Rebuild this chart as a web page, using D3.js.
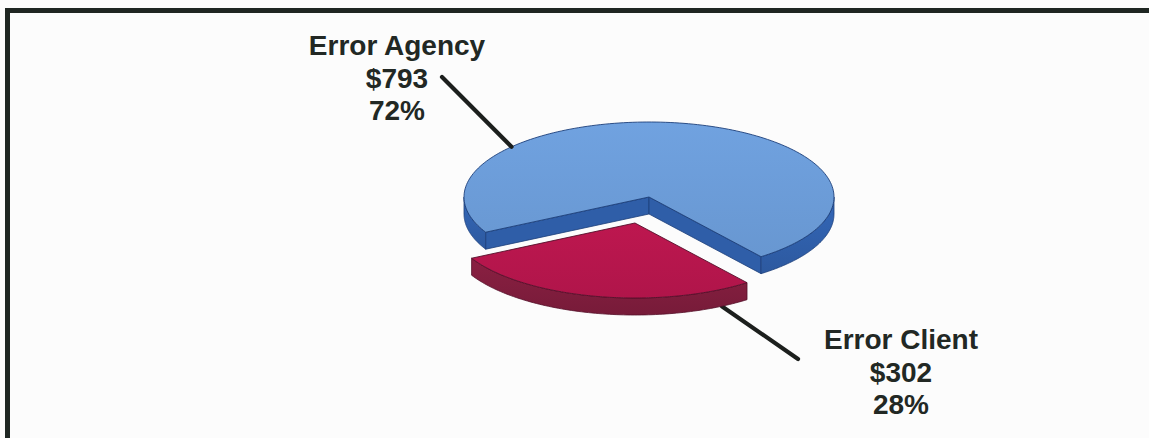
<!DOCTYPE html>
<html>
<head>
<meta charset="utf-8">
<script src="https://cdn.jsdelivr.net/npm/d3@7"></script>
<style>
  html, body { margin: 0; padding: 0; background: #fcfcfc; }
  svg { display: block; }
  text { font-family: "Liberation Sans", Arial, Helvetica, sans-serif; font-weight: bold; }
</style>
</head>
<body>
<svg id="chart" width="1149" height="438"></svg>
<script>
// ---- data ----
const categories = ["Error Agency", "Error Client"];
const values = [793, 302];
const topColors = ["#6b9bd7", "#b5164c"];
const sideColors = ["#2f5ea8", "#7e1d3c"];
const edgeColors = ["#1d3f7a", "#55102a"];
const explodeFactor = [0, 0.355];

// ---- layout ----
const W = 1149, H = 438;
const center = { x: 649, y: 197 };
const rx = 185, ry = 75, depth = 17;
const startDeg = 242; // d3 angle convention (0 = 12 o'clock)
const labelPos = [ { x: 397, y: 55 }, { x: 901, y: 349 } ];
const lineHeight = 32.5;
// leader lines: from label anchor to a point on slice edge (angle in screen param degrees)
const leaders = [
  { from: { x: 442, y: 77 }, angle: 222, bottom: false },
  { from: { x: 798, y: 359 }, angle: 62, bottom: true }
];

const svg = d3.select("#chart");
const total = d3.sum(values);
const fmtMoney = d3.format("$,.0f");
const fmtPct = d3.format(".0%");

// frame
svg.append("path")
  .attr("d", `M7.5,${H + 5} L7.5,10.5 L${W + 5},10.5`)
  .attr("fill", "none").attr("stroke", "#1f2622").attr("stroke-width", 5);

const pie = d3.pie().sort(null)
  .startAngle(startDeg * Math.PI / 180)
  .endAngle(startDeg * Math.PI / 180 + 2 * Math.PI);
const arcs = pie(values);

// convert d3 angle -> screen param angle (0 = +x, clockwise with y down)
const toScreen = a => a - Math.PI / 2;

const slices = arcs.map((d, i) => {
  const a0 = toScreen(d.startAngle), a1 = toScreen(d.endAngle);
  const mid = (a0 + a1) / 2;
  const e = explodeFactor[i];
  return {
    i, a0, a1,
    c: { x: center.x + e * rx * Math.cos(mid), y: center.y + e * ry * Math.sin(mid) }
  };
});

const pt = (c, t, dz = 0) => [c.x + rx * Math.cos(t), c.y + ry * Math.sin(t) + dz];
const line = d3.line();
function arcPts(c, s, e, dz = 0, n = 90) {
  const out = [];
  for (let k = 0; k <= n; k++) out.push(pt(c, s + (e - s) * k / n, dz));
  return out;
}

const defs = svg.append("defs");
slices.forEach(s => {
  const g = defs.append("linearGradient").attr("id", "top" + s.i)
    .attr("x1", "0").attr("y1", "0").attr("x2", "0").attr("y2", "1");
  const base = d3.color(topColors[s.i]);
  g.append("stop").attr("offset", "0").attr("stop-color", base.brighter(0.12));
  g.append("stop").attr("offset", "1").attr("stop-color", base.darker(0.08));
  const gs = defs.append("linearGradient").attr("id", "side" + s.i)
    .attr("x1", "0").attr("y1", "0").attr("x2", "0").attr("y2", "1");
  const sb = d3.color(sideColors[s.i]);
  gs.append("stop").attr("offset", "0").attr("stop-color", sb.brighter(0.25));
  gs.append("stop").attr("offset", "1").attr("stop-color", sb.darker(0.15));
});

// leader for client drawn behind pie
function drawLeader(L, idx) {
  const s = slices[idx];
  const t = L.angle * Math.PI / 180;
  const p = pt(s.c, t, L.bottom ? depth : 0);
  svg.append("line")
    .attr("x1", L.from.x).attr("y1", L.from.y)
    .attr("x2", p[0]).attr("y2", p[1])
    .attr("stroke", "#1c1f1d").attr("stroke-width", 4.2).attr("stroke-linecap", "round");
}
drawLeader(leaders[1], 1);

const pieG = svg.append("g");
slices.forEach(s => {
  const g = pieG.append("g");
  const { c, a0, a1 } = s;
  const stroke = edgeColors[s.i];
  // radial faces
  [[a0, "start"], [a1, "end"]].forEach(([t, kind]) => {
    const visible = kind === "start" ? Math.cos(t) < 0 : Math.cos(t) > 0;
    if (!visible) return;
    const pts = [[c.x, c.y], pt(c, t), pt(c, t, depth), [c.x, c.y + depth]];
    g.append("path").attr("d", line(pts) + "Z")
      .attr("fill", sideColors[s.i]).attr("stroke", stroke).attr("stroke-width", 0.8)
      .attr("stroke-linejoin", "round");
  });
  // outer walls (front half only)
  for (let k = -1; k <= 2; k++) {
    const lo = Math.max(a0, k * 2 * Math.PI), hi = Math.min(a1, k * 2 * Math.PI + Math.PI);
    if (hi > lo) {
      const top = arcPts(c, lo, hi);
      const bot = arcPts(c, hi, lo, depth);
      g.append("path").attr("d", line(top.concat(bot)) + "Z")
        .attr("fill", `url(#side${s.i})`).attr("stroke", stroke).attr("stroke-width", 0.8)
        .attr("stroke-linejoin", "round");
    }
  }
  // top face
  const topPts = [[c.x, c.y]].concat(arcPts(c, a0, a1, 0, 180));
  g.append("path").attr("d", line(topPts) + "Z")
    .attr("fill", `url(#top${s.i})`).attr("stroke", stroke).attr("stroke-width", 0.9)
    .attr("stroke-linejoin", "round");
});

drawLeader(leaders[0], 0);

// labels
categories.forEach((name, i) => {
  const lines = [name, fmtMoney(values[i]), fmtPct(values[i] / total)];
  const t = svg.append("text")
    .attr("text-anchor", "middle")
    .attr("font-size", 28)
    .attr("fill", "#222824");
  lines.forEach((s, k) => {
    t.append("tspan").attr("x", labelPos[i].x).attr("y", labelPos[i].y + k * lineHeight).text(s);
  });
});
</script>
</body>
</html>
